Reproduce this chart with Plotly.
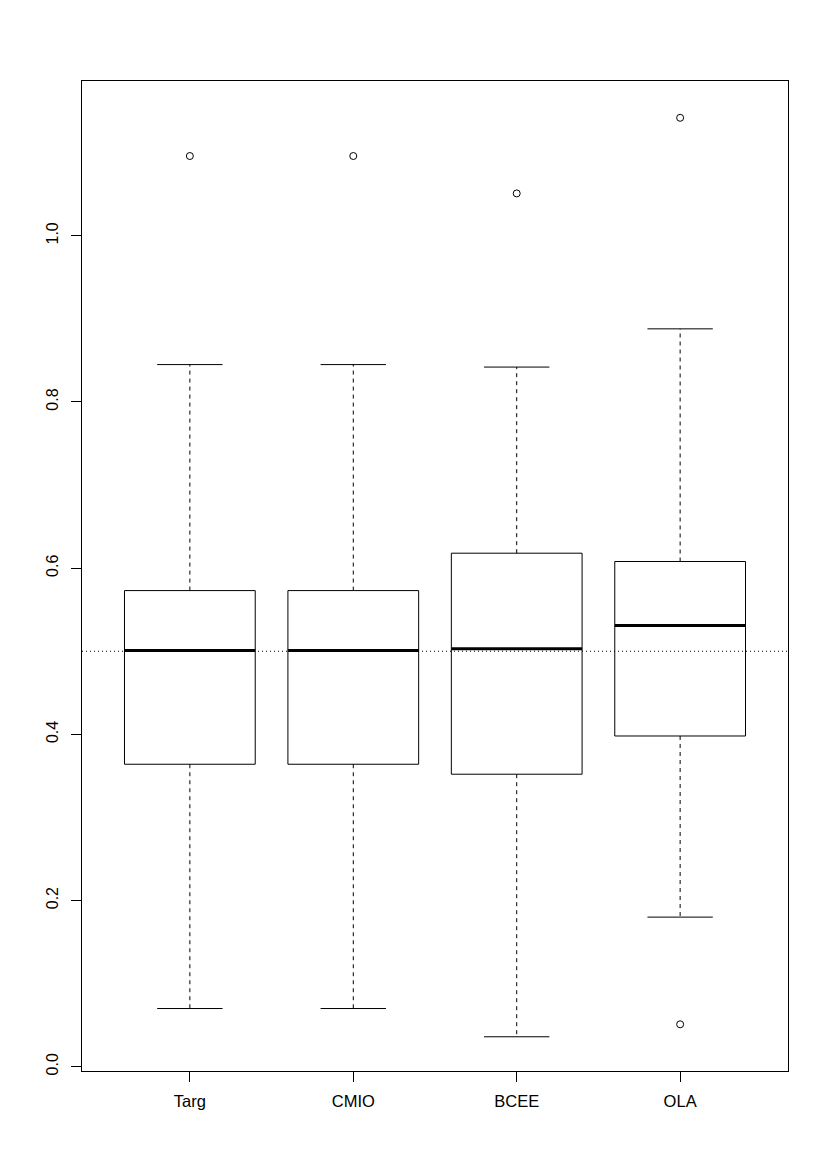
import plotly.graph_objects as go

categories = ["Targ", "CMIO", "BCEE", "OLA"]
lower_whisker = [0.070, 0.070, 0.036, 0.180]
q1_values = [0.364, 0.364, 0.352, 0.398]
medians = [0.501, 0.501, 0.503, 0.531]
q3_values = [0.573, 0.573, 0.618, 0.608]
upper_whisker = [0.845, 0.845, 0.842, 0.888]
outliers = [[1.096], [1.096], [1.051], [1.142, 0.051]]
reference_value = 0.5
y_ticks = [0.0, 0.2, 0.4, 0.6, 0.8, 1.0]

BOX_HALF = 0.4
CAP_HALF = 0.2
FONT = "Liberation Sans, Arial, Helvetica, sans-serif"

fig = go.Figure()
for i, cat in enumerate(categories):
    x = i + 1
    line = dict(color="black", width=1)
    # box
    fig.add_trace(go.Scatter(
        x=[x - BOX_HALF, x + BOX_HALF, x + BOX_HALF, x - BOX_HALF, x - BOX_HALF],
        y=[q1_values[i], q1_values[i], q3_values[i], q3_values[i], q1_values[i]],
        mode="lines", line=line, hoverinfo="skip", showlegend=False))
    # whiskers (dashed)
    fig.add_trace(go.Scatter(
        x=[x, x, None, x, x],
        y=[q3_values[i], upper_whisker[i], None, q1_values[i], lower_whisker[i]],
        mode="lines", line=dict(color="black", width=1, dash="4px,4px"),
        hoverinfo="skip", showlegend=False))
    # caps
    fig.add_trace(go.Scatter(
        x=[x - CAP_HALF, x + CAP_HALF, None, x - CAP_HALF, x + CAP_HALF],
        y=[upper_whisker[i], upper_whisker[i], None, lower_whisker[i], lower_whisker[i]],
        mode="lines", line=line, hoverinfo="skip", showlegend=False))
    # median
    fig.add_trace(go.Scatter(
        x=[x - BOX_HALF, x + BOX_HALF], y=[medians[i], medians[i]],
        mode="lines", line=dict(color="black", width=3),
        hoverinfo="skip", showlegend=False))
    # outliers
    fig.add_trace(go.Scatter(
        x=[x] * len(outliers[i]), y=outliers[i], mode="markers",
        marker=dict(symbol="circle-open", size=7, color="black", line=dict(width=1)),
        hoverinfo="skip", showlegend=False))

fig.add_shape(type="line", xref="paper", x0=0, x1=1, yref="y",
              y0=reference_value, y1=reference_value,
              line=dict(color="black", width=1, dash="1px,3px"))

fig.update_layout(
    width=822, height=1166,
    margin=dict(l=74, r=42, t=73, b=103),
    paper_bgcolor="white", plot_bgcolor="white",
    font=dict(family=FONT, color="black", size=15),
    xaxis=dict(range=[0.34, 4.66], tickvals=[1, 2, 3, 4], ticktext=categories,
               showgrid=False, zeroline=False, showline=True, mirror=True,
               linecolor="black", linewidth=1, ticks="outside", ticklen=10,
               tickcolor="black", tickfont=dict(size=16.5), ticklabelstandoff=5),
    yaxis=dict(range=[-0.0052, 1.1863], tickvals=y_ticks,
               ticktext=[f"{v:.1f}" for v in y_ticks],
               showgrid=False, zeroline=False, showline=True, mirror=True,
               linecolor="black", linewidth=1, ticks="outside", ticklen=10,
               tickcolor="black", tickangle=-90, tickfont=dict(size=16),
               ticklabelstandoff=7),
)

fig.write_html("out.html")
